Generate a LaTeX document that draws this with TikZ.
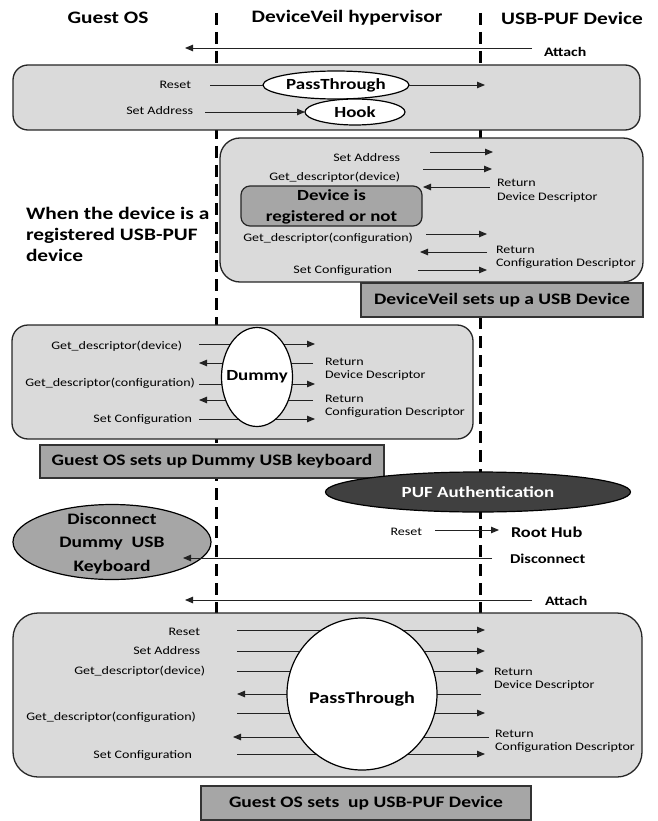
\documentclass[tikz,border=0pt]{standalone}
\usepackage{fontspec}
\setmainfont{Carlito}[FakeStretch=1.22]
\usetikzlibrary{arrows.meta,shapes.geometric}
\definecolor{panelgray}{HTML}{DADADA}
\definecolor{capgray}{HTML}{A6A6A6}
\definecolor{pufgray}{HTML}{404040}
\definecolor{lnc}{HTML}{222222}
\newcommand\harr[5]{\coordinate (#1s) at (#2,#4); \coordinate (#1e) at (#3,#4); \draw[#5] (#1s) -- (#1e);}
\begin{document}
\begin{tikzpicture}[x=1pt,y=-1pt,
  every node/.style={inner sep=0pt,outer sep=0pt},
  sm/.style={font=\fontsize{11.5}{13.5}\selectfont},
  smr/.style={sm,anchor=east},
  sml/.style={sm,anchor=west,align=left},
  hd/.style={font=\fontsize{17.5}{21}\selectfont\bfseries},
  bl/.style={font=\fontsize{13.5}{16}\selectfont\bfseries,anchor=west},
  lane/.style={line width=3pt,dash pattern=on 12pt off 7pt},
  panel/.style={draw=black!85,line width=1.3pt,fill=panelgray,rectangle},
  capbox/.style={draw=black!80,line width=1.2pt,fill=capgray,rectangle,font=\fontsize{16}{19}\selectfont\bfseries},
  arr/.style={draw=lnc,line width=0.9pt,-{Triangle[length=8pt,width=6.5pt]}},
  plain/.style={draw=lnc,line width=0.9pt},
  ell/.style={ellipse,draw=black,line width=1.2pt,fill=white},
  elltext/.style={font=\fontsize{15.5}{18}\selectfont\bfseries}]
\useasboundingbox (0,0) rectangle (657,821);
% lanes
\coordinate (l1t) at (216,13); \coordinate (l1b) at (216,615);
\coordinate (l2t) at (480,13); \coordinate (l2b) at (480,615);
\draw[lane] (l1t) -- (l1b);
\draw[lane] (l2t) -- (l2b);
% headers
\node[hd] (h1) at (108,18) {Guest OS};
\node[hd] (h2) at (347,18) {DeviceVeil hypervisor};
\node[hd] (h3) at (572,18) {USB-PUF Device};
% attach 1
\harr{at1}{532}{185}{48}{arr}
\node[bl,font=\fontsize{13}{15}\selectfont\bfseries] (att1) at (544,52) {Attach};
% box 1
\node[panel,rounded corners=15pt,minimum width=627pt,minimum height=65pt] (p1) at (326.5,97.5) {};
\node[ell,minimum width=146pt,minimum height=28pt] (pt1) at (336,85) {};
\node[elltext] (pt1t) at (pt1.center) {PassThrough};
\node[ell,minimum width=100pt,minimum height=26pt] (hook) at (355,112) {};
\node[elltext] (hookt) at (hook.center) {Hook};
\node[smr] (r1) at (191,85) {Reset};
\coordinate (r1s) at (210,85);
\draw[plain] (r1s) -- (pt1.west);
\coordinate (r1e) at (485,85);
\draw[arr] (pt1.east) -- (r1e);
\node[smr] (sa1) at (193,111) {Set Address};
\coordinate (sa1s) at (205,112);
\draw[arr] (sa1s) -- (hook.west);
% box 2
\node[panel,rounded corners=20pt,minimum width=423pt,minimum height=144pt] (p2) at (431.5,210) {};
\node[capbox,minimum width=282pt,minimum height=34pt] (c2) at (502,300) {DeviceVeil sets up a USB Device};
\node[draw=black!85,line width=1.2pt,fill=capgray,rounded corners=9pt,minimum width=181pt,minimum height=40pt] (reg) at (331.5,206) {};
\node[align=center,font=\fontsize{15.5}{21.5}\selectfont\bfseries] (regt) at (331.5,207) {Device is\\registered or not};
\node[smr] (b2a) at (400,158) {Set Address};
\harr{b2aa}{430}{493}{152}{arr}
\node[smr] (b2b) at (400,177) {Get\_descriptor(device)};
\harr{b2ba}{423}{492}{169}{arr}
\node[sml] (b2c) at (497,190.5) {Return\\Device Descriptor};
\harr{b2ca}{490}{423}{187}{arr}
\node[smr] (b2d) at (413,238) {Get\_descriptor(configuration)};
\harr{b2da}{426}{487}{234}{arr}
\node[sml] (b2e) at (496,257.5) {Return\\Configuration Descriptor};
\harr{b2ea}{487}{420}{252}{arr}
\node[smr] (b2f) at (392,271) {Set Configuration};
\harr{b2fa}{418}{487}{270}{arr}
\node[anchor=west,align=left,font=\fontsize{17.5}{21}\selectfont\bfseries] (when) at (26,234) {When the device is a\\registered USB-PUF\\device};
% box 3
\node[panel,rounded corners=16pt,minimum width=461pt,minimum height=114pt] (p3) at (242.5,382) {};
\node[capbox,minimum width=344pt,minimum height=33pt] (c3) at (212,461.5) {Guest OS sets up Dummy USB keyboard};
\node[smr] (b3a) at (182,346) {Get\_descriptor(device)};
\harr{b3aa}{199}{315}{344}{arr}
\node[sml] (b3b) at (325,369) {Return\\Device Descriptor};
\harr{b3ba}{313}{199}{363}{arr}
\node[smr] (b3c) at (195,383) {Get\_descriptor(configuration)};
\harr{b3ca}{199}{315}{384}{arr}
\node[sml] (b3d) at (325,406.5) {Return\\Configuration Descriptor};
\harr{b3da}{313}{199}{400}{arr}
\node[smr] (b3e) at (192,420) {Set Configuration};
\harr{b3ea}{199}{315}{419}{arr}
\node[ell,minimum width=71pt,minimum height=99pt] (dummy) at (257,377) {};
\node[elltext] (dummyt) at (dummy.center) {Dummy};
% PUF authentication
\node[ellipse,draw=black,line width=1.2pt,fill=pufgray,minimum width=305pt,minimum height=40pt] (puf) at (478,492) {};
\node[elltext,text=white] (puft) at (puf.center) {PUF Authentication};
\node[smr] (rs) at (422,532) {Reset};
\harr{rsa}{435}{499}{530}{arr}
\node[bl,font=\fontsize{15}{18}\selectfont\bfseries] (hub) at (511,532) {Root Hub};
\node[ellipse,draw=black,line width=1.2pt,fill=capgray,minimum width=198pt,minimum height=75pt] (disc) at (112,542) {};
\node[align=center,font=\fontsize{16}{23.5}\selectfont\bfseries] (disct) at (112,543.5) {Disconnect\\Dummy\ \ USB\\Keyboard};
\harr{dca}{492}{183}{558}{arr}
\node[bl] (dct) at (510,559) {Disconnect};
\harr{at2}{532}{185}{600}{arr}
\node[bl,font=\fontsize{13}{15}\selectfont\bfseries] (att2) at (545,601) {Attach};
% bottom box
\node[panel,rounded corners=25pt,minimum width=629pt,minimum height=164pt] (p4) at (327.5,695) {};
\node[capbox,minimum width=330pt,minimum height=34pt] (c4) at (366,803) {Guest OS sets\ \ up USB-PUF Device};
\node[smr] (b4a) at (200,632) {Reset};
\harr{b4aa}{237}{485}{630}{arr}
\node[smr] (b4b) at (200,651) {Set Address};
\harr{b4ba}{237}{485}{651}{arr}
\node[smr] (b4c) at (205,671) {Get\_descriptor(device)};
\harr{b4ca}{237}{484}{671}{arr}
\node[sml] (b4d) at (494,679) {Return\\Device Descriptor};
\harr{b4da}{481}{237}{694}{arr}
\node[smr] (b4e) at (196,717) {Get\_descriptor(configuration)};
\harr{b4ea}{237}{485}{713}{arr}
\node[sml] (b4f) at (495,741.5) {Return\\Configuration Descriptor};
\harr{b4fa}{489}{233}{737}{arr}
\node[smr] (b4g) at (192,756) {Set Configuration};
\harr{b4ga}{237}{485}{754}{arr}
\node[ell,minimum width=150pt,minimum height=152pt] (pt2) at (362,694) {};
\node[elltext,font=\fontsize{16.5}{19}\selectfont\bfseries] (pt2t) at (362,699) {PassThrough};
\end{tikzpicture}
\end{document}
